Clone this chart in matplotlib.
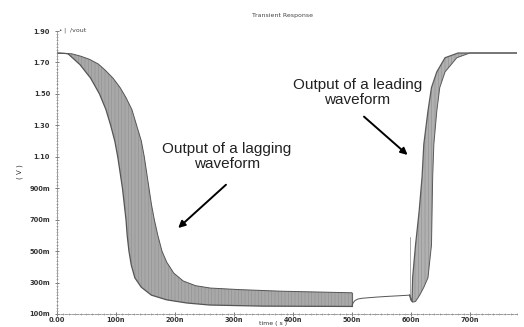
import numpy as np
import matplotlib.pyplot as plt

plt.rcParams['hatch.linewidth'] = 0.45

# lagging waveform: early (left) and late (right) edge of the bundle, t in ns, v in V
lag_early_t = [0, 15, 19, 39, 57, 72, 83, 91, 98, 103, 107, 111, 114, 117, 119, 122, 126, 132, 143, 160, 186, 220, 259, 350, 500]
lag_early_v = [1.76, 1.757, 1.754, 1.686, 1.60, 1.50, 1.40, 1.30, 1.20, 1.10, 1.00, 0.90, 0.80, 0.70, 0.60, 0.50, 0.41, 0.33, 0.27, 0.22, 0.19, 0.17, 0.157, 0.15, 0.148]
lag_late_t = [0, 25, 40, 55, 70, 82, 95, 107, 117, 127, 135, 143, 148, 152, 156, 160, 165, 171, 178, 186, 198, 214, 235, 260, 310, 380, 500]
lag_late_v = [1.76, 1.755, 1.74, 1.72, 1.69, 1.65, 1.60, 1.54, 1.476, 1.40, 1.30, 1.20, 1.10, 1.00, 0.90, 0.80, 0.70, 0.60, 0.50, 0.43, 0.36, 0.31, 0.28, 0.265, 0.255, 0.245, 0.235]

# single trace between the two bundles
link_t = [500, 502, 505, 510, 517, 540, 560, 580, 598]
link_v = [0.148, 0.17, 0.185, 0.195, 0.20, 0.207, 0.212, 0.216, 0.22]
spike_t = [598, 598]
spike_v = [0.22, 0.59]

# leading waveform bundle
lead_early_t = [598, 600, 602, 603, 608, 614, 619, 622, 629, 635, 644, 658, 680, 780]
lead_early_v = [0.22, 0.19, 0.18, 0.33, 0.54, 0.75, 0.97, 1.18, 1.39, 1.54, 1.64, 1.73, 1.76, 1.76]
lead_late_t = [598, 603, 608, 615, 622, 629, 635, 636, 637, 639, 644, 649, 658, 678, 700, 780]
lead_late_v = [0.22, 0.175, 0.18, 0.22, 0.27, 0.33, 0.54, 0.75, 0.97, 1.18, 1.39, 1.54, 1.64, 1.73, 1.76, 1.76]

x_ticks = [0, 100, 200, 300, 400, 500, 600, 700]
x_labels = ["0.00", "100n", "200n", "300n", "400n", "500n", "600n", "700n"]
y_ticks = [0.1, 0.3, 0.5, 0.7, 0.9, 1.1, 1.3, 1.5, 1.7, 1.9]
y_labels = ["100m", "300m", "500m", "700m", "900m", "1.10", "1.30", "1.50", "1.70", "1.90"]

fig = plt.figure(figsize=(5.24, 3.27), dpi=100)
ax = fig.add_axes([57/524, 1 - 314/327, 460/524, 283/327])

def bundle(t1, v1, t2, v2, face, edge):
    poly_t = list(t1) + list(t2)[::-1]
    poly_v = list(v1) + list(v2)[::-1]
    ax.fill(poly_t, poly_v, facecolor=face, edgecolor='#929292', hatch='|||||', linewidth=0)
    ax.plot(t1, v1, color=edge, lw=0.9)
    ax.plot(t2, v2, color=edge, lw=0.7)

bundle(lag_early_t, lag_early_v, lag_late_t, lag_late_v, '#a8a8a8', '#555555')
ax.plot([500, 500], [lag_early_v[-1], lag_late_v[-1]], color='#666666', lw=0.8)
ax.plot(link_t, link_v, color='#555555', lw=0.7)
ax.plot(spike_t, spike_v, color='#9a9a9a', lw=0.6)
bundle(lead_early_t, lead_early_v, lead_late_t, lead_late_v, '#b0b0b0', '#5a5a5a')

ax.set_xlim(0, 780)
ax.set_ylim(0.1, 1.9)
for s in ['top', 'right']:
    ax.spines[s].set_visible(False)
for s in ['left', 'bottom']:
    ax.spines[s].set_color('#888888')
    ax.spines[s].set_linewidth(0.6)
    ax.spines[s].set_linestyle((0, (3, 1.5)))

ax.set_xticks(x_ticks)
ax.set_xticklabels(x_labels)
ax.set_yticks(y_ticks)
ax.set_yticklabels(y_labels)
ax.set_xticks(np.arange(0, 781, 10), minor=True)
ax.set_yticks(np.arange(0.1, 1.9, 0.02), minor=True)
ax.tick_params(which='major', direction='inout', length=3, width=0.6, color='#666666',
               labelsize=4.8, labelcolor='#333333')
ax.tick_params(axis='x', which='major', pad=0.5)
ax.tick_params(axis='y', which='major', pad=3.5)
ax.tick_params(which='minor', direction='inout', length=1.5, width=0.4, color='#888888')
for lab in ax.get_xticklabels() + ax.get_yticklabels():
    lab.set_fontweight('bold')

fig.text(283/524, 1 - 15/327, "Transient Response", fontsize=4.5, ha='center', va='center', color='#444444')
fig.text(59/524, 1 - 30/327, "\u2022 |", fontsize=4, ha='left', va='center', color='#444444')
fig.text(70/524, 1 - 30/327, "/vout", fontsize=4.5, ha='left', va='center', color='#444444')
fig.text(20/524, 1 - 172/327, "( V )", fontsize=5, rotation=90, ha='center', va='center', color='#333333')
fig.text(273/524, 0.002, "time ( s )", fontsize=4.4, ha='center', va='bottom', color='#333333')

ax.text(288, 1.10, "Output of a lagging\nwaveform", fontsize=11, family='Liberation Sans',
        ha='center', va='center', linespacing=1.1, color='#222222')
ax.text(509, 1.51, "Output of a leading\nwaveform", fontsize=11, family='Liberation Sans',
        ha='center', va='center', linespacing=1.1, color='#222222')
ax.annotate("", xy=(202, 0.635), xytext=(290, 0.934),
            arrowprops=dict(arrowstyle='-|>', lw=1.4, color='k', mutation_scale=10))
ax.annotate("", xy=(598, 1.10), xytext=(517, 1.367),
            arrowprops=dict(arrowstyle='-|>', lw=1.4, color='k', mutation_scale=10))

fig.savefig("out.png", dpi=100)
